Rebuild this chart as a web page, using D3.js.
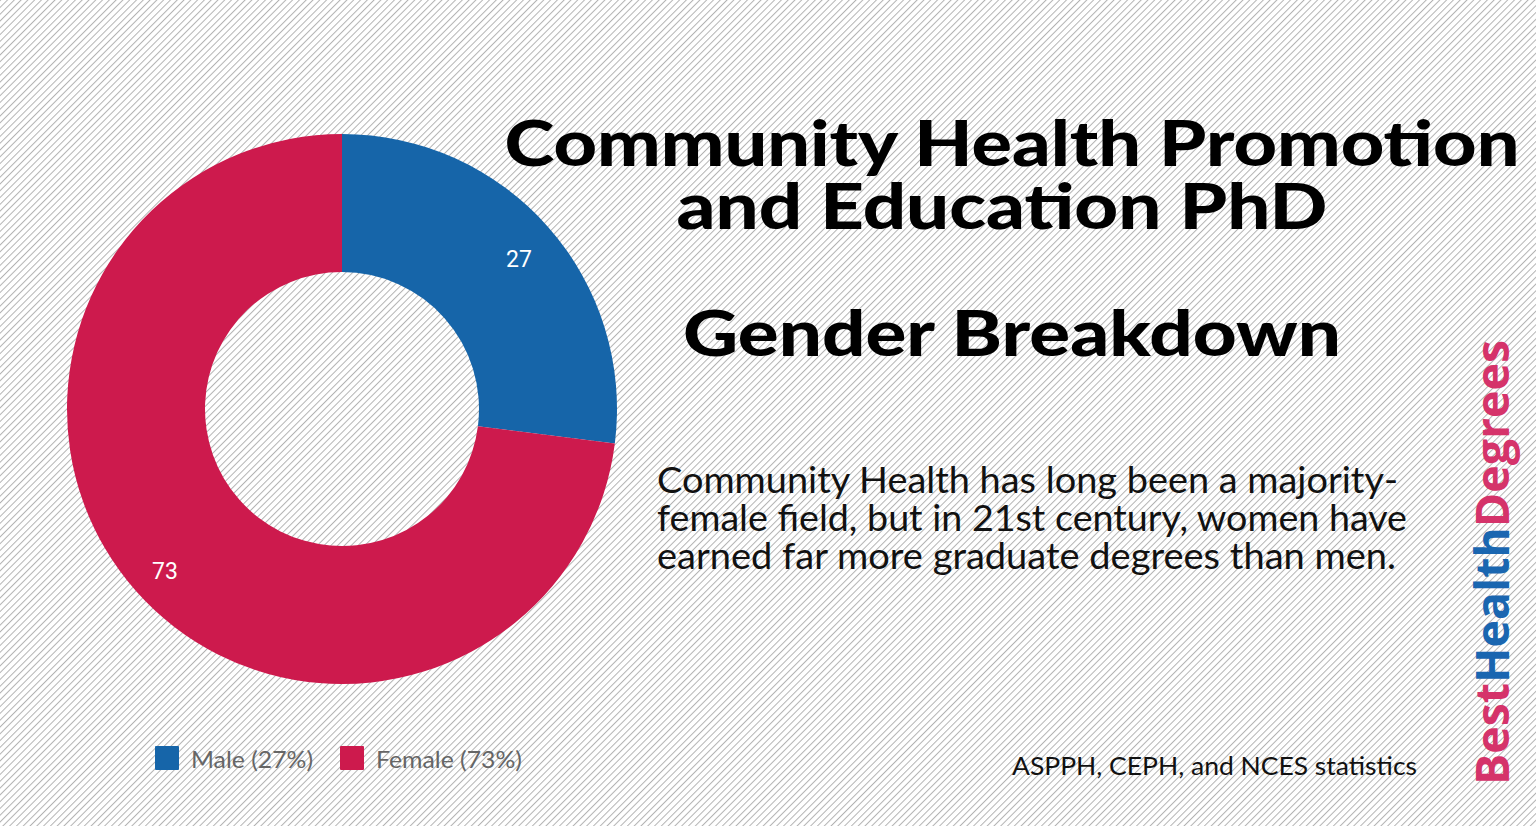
<!DOCTYPE html>
<html><head><meta charset="utf-8">
<script src="https://cdn.jsdelivr.net/npm/d3@7"></script>
<style>html,body{margin:0;padding:0;background:#fff;overflow:hidden}</style>
</head><body>
<script>
const categories = ["Male", "Female"];
const values = [27, 73];
const colors = ["#1665a9", "#cd1a4d"];
const legendLabels = ["Male (27%)", "Female (73%)"];
const titleLines = ["Community Health Promotion", "and Education PhD"];
const subtitle = "Gender Breakdown";
const bodyLines = ["Community Health has long been a majority-", "female field, but in 21st century, women have", "earned far more graduate degrees than men."];
const source = "ASPPH, CEPH, and NCES statistics";
const brand = [["Best", "#d5336a"], ["Health", "#1a66b0"], ["Degrees", "#d5336a"]];

const W = 1536, H = 826;
const svg = d3.select("body").append("svg").attr("width", W).attr("height", H);
const defs = svg.append("defs");
const pat = defs.append("pattern").attr("id", "hatch").attr("patternUnits", "userSpaceOnUse")
  .attr("width", 4.8).attr("height", 10).attr("patternTransform", "rotate(45)");
pat.append("rect").attr("width", 4.8).attr("height", 10).attr("fill", "#fff");
pat.append("line").attr("x1", 0.5).attr("x2", 0.5).attr("y1", 0).attr("y2", 10)
  .attr("stroke", "#b3b3b3").attr("stroke-width", 1);
svg.append("rect").attr("width", W).attr("height", H).attr("fill", "url(#hatch)");

// Donut
const cx = 342, cy = 409, rOuter = 275, rInner = 137;
const pie = d3.pie().sort(null).value(d => d)(values);
const arc = d3.arc().innerRadius(rInner).outerRadius(rOuter);
const labelArc = d3.arc().innerRadius(236).outerRadius(236);
const g = svg.append("g").attr("transform", `translate(${cx},${cy})`);
g.selectAll("path").data(pie).join("path").attr("d", arc).attr("fill", (d, i) => colors[i]);
g.selectAll("text").data(pie).join("text")
  .attr("transform", d => { const c = labelArc.centroid(d); return `translate(${c[0]},${c[1] + 6})`; })
  .attr("text-anchor", "middle").attr("dy", "0.35em")
  .attr("font-family", "Roboto, sans-serif").attr("font-size", 23).attr("fill", "#fff")
  .text(d => d.data);

// Legend
const lg = svg.append("g").attr("transform", "translate(155,746)");
const xs = [0, 185];
const lw = [122, 146];
categories.forEach((c, i) => {
  const gi = lg.append("g").attr("transform", `translate(${xs[i]},0)`);
  gi.append("rect").attr("width", 24).attr("height", 24).attr("rx", 1).attr("fill", colors[i]);
  gi.append("text").attr("x", 36).attr("y", 22).attr("font-family", "Lato, sans-serif")
    .attr("font-size", 24).attr("fill", "#666")
    .attr("textLength", lw[i]).attr("lengthAdjust", "spacingAndGlyphs").text(legendLabels[i]);
});

// Titles
const tf = "'Lato', 'DejaVu Sans', sans-serif";
const titleSpec = [[1012, 166, 1015], [1002, 229, 651]];
titleLines.forEach((t, i) => {
  svg.append("text").attr("x", titleSpec[i][0]).attr("y", titleSpec[i][1]).attr("text-anchor", "middle")
    .attr("font-family", tf).attr("font-weight", 900).attr("font-size", 62)
    .attr("textLength", titleSpec[i][2]).attr("lengthAdjust", "spacingAndGlyphs")
    .attr("fill", "#000").text(t);
});
svg.append("text").attr("x", 1012).attr("y", 356).attr("text-anchor", "middle")
  .attr("font-family", tf).attr("font-weight", 900).attr("font-size", 62)
  .attr("textLength", 658).attr("lengthAdjust", "spacingAndGlyphs")
  .attr("fill", "#000").text(subtitle);

// Body
const bw = [741, 750, 739];
bodyLines.forEach((t, i) => {
  svg.append("text").attr("x", 657).attr("y", 493 + i * 38)
    .attr("font-family", "Lato, sans-serif").attr("font-size", 36).attr("fill", "#111")
    .attr("textLength", bw[i]).attr("lengthAdjust", "spacingAndGlyphs").text(t);
});

// Source
svg.append("text").attr("x", 1012).attr("y", 775)
  .attr("font-family", "Lato, sans-serif").attr("font-size", 25).attr("fill", "#111")
  .attr("textLength", 405).attr("lengthAdjust", "spacingAndGlyphs").text(source);

// Brand
const bt = svg.append("text").attr("transform", "translate(1509,785) rotate(-90)")
  .attr("font-family", "'Open Sans', sans-serif").attr("font-weight", 700).attr("font-size", 47)
  .attr("textLength", 445).attr("lengthAdjust", "spacingAndGlyphs");
brand.forEach(([t, c]) => bt.append("tspan").attr("fill", c).text(t));
</script>
</body></html>
